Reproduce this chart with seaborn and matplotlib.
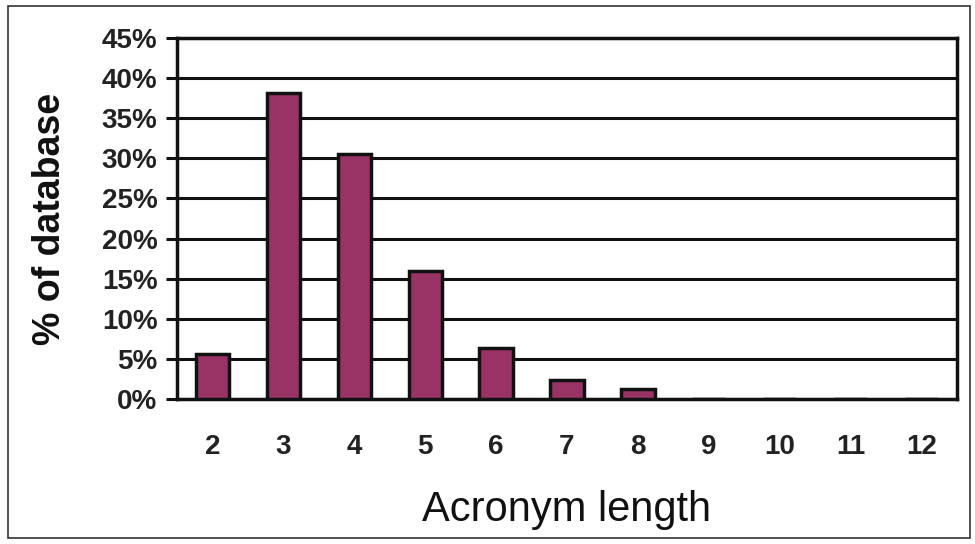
import pandas as pd
import matplotlib
matplotlib.use("Agg")
import matplotlib.pyplot as plt
import seaborn as sns
from matplotlib.patches import Rectangle

# Data
lengths = ['2', '3', '4', '5', '6', '7', '8', '9', '10', '11', '12']
share = [5.6, 38.2, 30.6, 16.0, 6.3, 2.4, 1.2, 0.0, 0.0, 0.0, 0.0]
yticks = [0, 5, 10, 15, 20, 25, 30, 35, 40, 45]

df = pd.DataFrame({'Acronym length': lengths, 'share': share})

sns.set_theme(style="white")
plt.rcParams['font.family'] = ['Liberation Sans', 'DejaVu Sans']

fig = plt.figure(figsize=(9.75, 5.44), dpi=100)
ax = fig.add_axes([177 / 975, 1 - 399 / 544, (957 - 177) / 975, (399 - 38) / 544])

sns.barplot(data=df, x='Acronym length', y='share', color='#993366',
            saturation=1, width=0.47, edgecolor='#111111', linewidth=2.5, ax=ax, zorder=3)

ax.set_ylim(0, 45)
ax.set_xlim(-0.5, len(lengths) - 0.5)
ax.set_yticks(yticks)
ax.set_yticklabels([f'{v}%' for v in yticks], fontsize=20, fontweight='bold', color='#222222')
for v in yticks:
    ax.axhline(v, color='#111111', linewidth=2.2, zorder=1)

# category boundaries as ticks, labels centred
ax.set_xticks(range(len(lengths)))
ax.set_xticklabels(lengths, fontsize=20, fontweight='bold', color='#222222')
ax.tick_params(axis='x', which='major', length=0, pad=25)
ax.set_xticks([i - 0.5 for i in range(len(lengths) + 1)], minor=True)
ax.tick_params(axis='x', which='minor', length=8, width=2.2, color='#111111', direction='out')
ax.tick_params(axis='y', length=8, width=2.2, color='#111111', direction='out', pad=6, left=True)

for s in ax.spines.values():
    s.set_color('#111111')
    s.set_linewidth(2.5)

ax.set_xlabel('Acronym length', fontsize=30, labelpad=22, color='#111111')
ax.set_ylabel('% of database', fontsize=27, fontweight='bold', labelpad=24, color='#111111')

# outer chart border
fig.patches.append(Rectangle((8 / 975, 6 / 544), 962 / 975, 532 / 544, transform=fig.transFigure,
                             fill=False, edgecolor='#333333', linewidth=1.2))

fig.savefig('out.png', dpi=100)
